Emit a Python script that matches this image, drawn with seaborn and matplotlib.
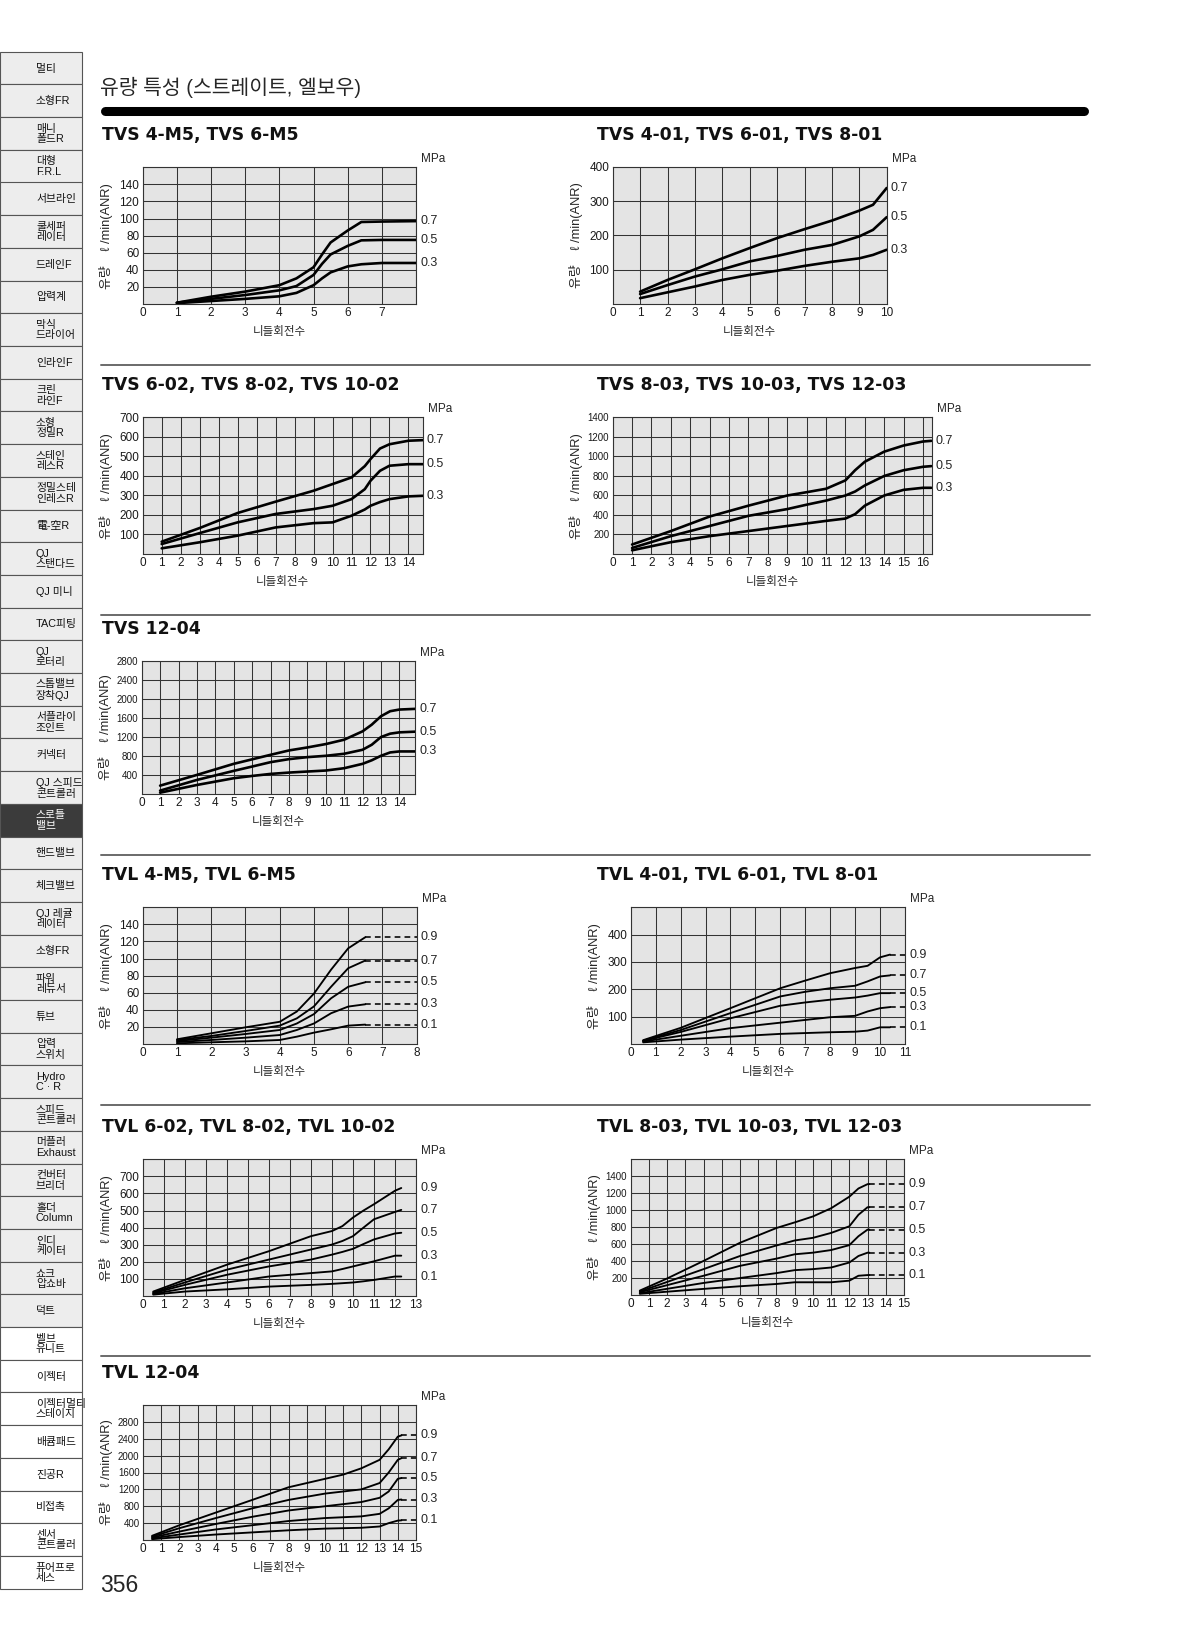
import matplotlib
matplotlib.use('Agg')
import matplotlib.pyplot as plt
from matplotlib.lines import Line2D
from matplotlib.patches import Rectangle
from matplotlib import font_manager
import numpy as np
import pandas as pd
import seaborn as sns

W, H = 1197, 1638

# ---------------- data ----------------
# TVS 4-M5, TVS 6-M5
tvs_m5_x = [1, 2, 3, 4, 4.5, 5, 5.25, 5.5, 6, 6.4, 7, 8]
tvs_m5_07 = [1.5, 8.5, 14.5, 22, 30, 43, 58, 72, 86, 96, 96.5, 97]
tvs_m5_05 = [1.5, 6, 10.5, 16, 21, 34, 47, 58, 68, 74.5, 75, 75]
tvs_m5_03 = [1, 3.5, 6, 9, 13, 22, 30, 37, 44, 46.5, 48, 48]

# TVS 4-01, TVS 6-01, TVS 8-01
tvs_01_x = [1, 2, 3, 4, 5, 6, 7, 8, 9, 9.5, 10]
tvs_01_07 = [36, 70, 101, 133, 163, 192, 218, 243, 272, 289, 338]
tvs_01_05 = [29, 55, 80, 101, 124, 140, 158, 172, 197, 216, 253]
tvs_01_03 = [17, 34, 51, 70, 85, 97, 111, 123, 133, 143, 158]

# TVS 6-02, TVS 8-02, TVS 10-02
tvs_02_x = [1, 3, 5, 7, 9, 10, 11, 11.7, 12, 12.5, 13, 14, 14.75]
tvs_02_07 = [63, 133, 210, 268, 324, 358, 392, 450, 486, 540, 562, 580, 583]
tvs_02_05 = [51, 107, 162, 205, 230, 247, 281, 332, 375, 426, 452, 460, 460]
tvs_02_03 = [29, 60, 94, 136, 158, 162, 196, 228, 247, 266, 281, 295, 298]

# TVS 8-03, TVS 10-03, TVS 12-03
tvs_03_x = [1, 3, 5, 7, 9, 10, 11, 12, 12.5, 13, 14, 15, 16, 16.43]
tvs_03_07 = [97, 235, 384, 495, 599, 633, 668, 754, 858, 945, 1048, 1111, 1152, 1159]
tvs_03_05 = [62, 183, 287, 391, 460, 505, 547, 599, 640, 702, 799, 858, 893, 900]
tvs_03_03 = [38, 121, 183, 235, 287, 313, 339, 363, 408, 495, 599, 657, 678, 678]

# TVS 12-04
tvs_04_x = [1, 3, 5, 6, 7, 8, 9, 10, 11, 12, 12.5, 13, 13.5, 14, 14.85]
tvs_04_07 = [176, 402, 635, 730, 825, 917, 980, 1051, 1143, 1319, 1460, 1637, 1743, 1778, 1792]
tvs_04_05 = [71, 296, 487, 578, 670, 734, 776, 804, 847, 931, 1037, 1199, 1270, 1298, 1312]
tvs_04_03 = [28, 190, 332, 380, 423, 451, 473, 494, 543, 635, 710, 804, 875, 896, 896]

# TVL 4-M5, TVL 6-M5
tvl_m5_x = [1, 2, 3, 4, 4.5, 5, 5.5, 6, 6.5]
tvl_m5_09 = [5.5, 12.5, 19.5, 26, 38, 59, 87, 112, 125]
tvl_m5_07 = [4.7, 9.4, 15.2, 21.5, 30, 44, 67, 88.7, 97.7]
tvl_m5_05 = [3.5, 7.4, 11.7, 16.4, 24, 35, 53.5, 67, 72.3]
tvl_m5_03 = [2.3, 4.7, 7.4, 10.5, 16.4, 24, 36, 43.8, 46.5]
tvl_m5_01 = [0.8, 2, 3.1, 4.7, 8.6, 13.3, 17.2, 21.5, 22.7]

# TVL 4-01, TVL 6-01, TVL 8-01
tvl_01_x = [0.5, 2, 4, 6, 7, 8, 9, 9.5, 10, 10.4]
tvl_01_09 = [14, 59, 131, 204, 232, 259, 278, 286, 317, 327]
tvl_01_07 = [12, 51, 113, 174, 191, 204, 213, 229, 247, 251]
tvl_01_05 = [11, 44, 94, 140, 152, 162, 170, 177, 186, 186]
tvl_01_03 = [9, 30, 58, 78, 88, 98, 103, 119, 131, 135]
tvl_01_01 = [6, 16, 27, 37, 40, 43, 45, 49, 61, 61]

# TVL 6-02, TVL 8-02, TVL 10-02
tvl_02_x = [0.5, 2, 4, 6, 8, 9, 9.5, 10, 10.5, 11, 12, 12.3]
tvl_02_09 = [26, 94, 183, 262, 350, 380, 409, 459, 500, 537, 616, 632]
tvl_02_07 = [20, 79, 154, 213, 272, 301, 322, 350, 400, 449, 492, 504]
tvl_02_05 = [16, 65, 124, 173, 213, 242, 258, 276, 304, 331, 366, 370]
tvl_02_03 = [12, 45, 79, 114, 134, 144, 158, 173, 188, 203, 236, 236]
tvl_02_01 = [8, 26, 39, 55, 65, 71, 75, 79, 86, 94, 114, 114]

# TVL 8-03, TVL 10-03, TVL 12-03
tvl_03_x = [0.5, 2, 4, 6, 8, 9, 10, 11, 12, 12.5, 13, 13.1]
tvl_03_09 = [52, 195, 402, 616, 790, 856, 926, 1023, 1159, 1256, 1307, 1307]
tvl_03_07 = [41, 154, 305, 460, 584, 643, 674, 732, 810, 946, 1035, 1035]
tvl_03_05 = [33, 116, 227, 344, 429, 480, 499, 530, 588, 693, 771, 771]
tvl_03_03 = [21, 73, 142, 200, 258, 293, 305, 324, 383, 460, 499, 499]
tvl_03_01 = [14, 39, 72, 103, 130, 150, 150, 150, 169, 227, 235, 235]

# TVL 12-04
tvl_04_x = [0.5, 2, 4, 6, 8, 10, 11, 12, 13, 13.5, 14, 14.2]
tvl_04_09 = [100, 350, 650, 950, 1250, 1450, 1550, 1700, 1900, 2150, 2450, 2480]
tvl_04_07 = [80, 280, 520, 750, 950, 1100, 1150, 1200, 1350, 1600, 1900, 1940]
tvl_04_05 = [60, 200, 380, 550, 700, 800, 850, 900, 1000, 1150, 1450, 1470]
tvl_04_03 = [40, 130, 250, 350, 450, 520, 540, 560, 620, 750, 950, 960]
tvl_04_01 = [20, 70, 130, 180, 230, 270, 280, 290, 320, 400, 460, 466]

tvs_mpa = ['0.7', '0.5', '0.3']
tvl_mpa = ['0.9', '0.7', '0.5', '0.3', '0.1']

side_items = ['멀티', '소형FR', '매니\n폴드R', '대형\nF.R.L', '서브라인', '쿨세퍼\n레이터',
              '드레인F', '압력계', '막식\n드라이어', '인라인F', '크린\n라인F', '소형\n정밀R',
              '스테인\n레스R', '정밀스테\n인레스R', '電-空R', 'QJ\n스탠다드', 'QJ 미니',
              'TAC피팅', 'QJ\n로터리', '스톱밸브\n장착QJ', '서플라이\n조인트', '커넥터',
              'QJ 스피드\n콘트롤러', '스로틀\n밸브', '핸드밸브', '체크밸브', 'QJ 레귤\n레이터',
              '소형FR', '파워\n레듀서', '튜브', '압력\n스위치', 'Hydro\nC · R', '스피드\n콘트롤러',
              '머플러\nExhaust', '컨버터\n브리더', '홀더\nColumn', '인디\n케이터', '쇼크\n압쇼바',
              '덕트', '벨브\n유니트', '이젝터', '이젝터멀티\n스테이지', '배큠패드', '진공R',
              '비접촉', '센서\n콘트롤러', '퓨어프로\n세스']
side_active = '스로틀\n밸브'
side_white_from = '벨브\n유니트'

# ---------------- style ----------------
sns.set_theme(style='white')
plt.rcParams['font.family'] = ['Liberation Sans', 'Noto Sans CJK KR', 'DejaVu Sans']
names = {f.name for f in font_manager.fontManager.ttflist}
narrow = 'Liberation Sans Narrow' if 'Liberation Sans Narrow' in names else 'Liberation Sans'

fig = plt.figure(figsize=(W / 100, H / 100), dpi=100)
fig.patch.set_facecolor('white')


def fx(x):
    return x / W


def fy(y):
    return 1 - y / H


def draw_chart(box, title, x, curves, mpa, xlim, ylim, xmax_label, ystep, ymax_label,
               dashed=False, lw=1.9, ysize=8.5, yfont=None):
    l, t, r, b = box
    ax = fig.add_axes([fx(l), fy(b), (r - l) / W, (b - t) / H])
    ax.set_facecolor('#e4e4e4')

    rows = []
    for lab, ys in zip(mpa, curves):
        rows += [(xx, yy, lab) for xx, yy in zip(x, ys)]
    df = pd.DataFrame(rows, columns=['turns', 'flow', 'MPa'])
    sns.lineplot(data=df, x='turns', y='flow', hue='MPa', palette=['black'] * len(mpa),
                 legend=False, ax=ax, lw=lw, zorder=3)

    for lab, ys in zip(mpa, curves):
        if dashed:
            ax.plot([x[-1], xlim[1]], [ys[-1], ys[-1]], color='black', lw=lw * 0.85,
                    ls=(0, (3.6, 2.6)), zorder=3, clip_on=False)
        ax.annotate(lab, xy=(1, ys[-1]), xycoords=ax.get_yaxis_transform(),
                    xytext=(3, 0), textcoords='offset points', va='center', ha='left',
                    fontsize=9)

    ax.set_xlim(*xlim)
    ax.set_ylim(*ylim)
    xt = np.arange(0, int(np.floor(xlim[1] + 0.01)) + 1)
    ax.set_xticks(xt)
    ax.set_xticklabels([str(v) if v <= xmax_label else '' for v in xt], fontsize=8.5)
    yt = np.arange(ystep, ylim[1] + 0.5 * ystep, ystep)
    ax.set_yticks(yt)
    ax.set_yticklabels([str(int(v)) if v <= ymax_label else '' for v in yt], fontsize=ysize,
                       family=yfont if yfont else None)
    ax.set_xlabel('')
    ax.set_ylabel('')
    ax.tick_params(length=0, pad=2.5, colors='#1a1a1a')
    ax.grid(True, color='#333333', lw=0.75)
    ax.set_axisbelow(True)
    for s in ax.spines.values():
        s.set_color('#333333')
        s.set_linewidth(0.8)

    # labels around the chart
    tx = 101.5 if l < 500 else 597
    fig.text(fx(tx), fy(t - 32), title, fontsize=12.4, fontweight='bold', family='DejaVu Sans',
             va='center', ha='left', color='#111111')
    fig.text(fx(r + 5), fy(t - 8), 'MPa', fontsize=8.5, va='center', ha='left')
    fig.text(fx((l + r) / 2), fy(b + 28), '니들회전수', fontsize=8.3, va='center', ha='center')
    fig.text(fx(l - 37), fy((t + b) / 2), '유량    ℓ /min(ANR)', fontsize=9.3, rotation=90,
             va='center', ha='center')
    return ax


# ---------------- sidebar ----------------
top, step = 51.7, 32.7
white_start = side_items.index(side_white_from)
for i, item in enumerate(side_items):
    y0 = top + i * step
    if item == side_active:
        fc, tc = '#3b3b3b', 'white'
    elif i >= white_start:
        fc, tc = 'white', '#111111'
    else:
        fc, tc = '#ededed', '#111111'
    fig.add_artist(Rectangle((0, fy(y0 + step)), fx(82), step / H, transform=fig.transFigure,
                             facecolor=fc, edgecolor='#555555', lw=0.8))
    fig.text(fx(36), fy(y0 + step / 2 + 0.5), item, fontsize=7.8, va='center', ha='left',
             color=tc, linespacing=1.05)

# ---------------- header ----------------
fig.text(fx(100), fy(87), '유량 특성 (스트레이트, 엘보우)', fontsize=14.7, va='center', ha='left')
fig.add_artist(Line2D([fx(105), fx(1084)], [fy(110.5), fy(110.5)], transform=fig.transFigure,
                      color='black', lw=6.5, solid_capstyle='round'))
for ys in [365, 615, 855, 1105, 1356]:
    fig.add_artist(Line2D([fx(101), fx(1090)], [fy(ys), fy(ys)], transform=fig.transFigure,
                          color='#6a6a6a', lw=1.4))
fig.text(fx(100), fy(1586), '356', fontsize=16.5, va='center', ha='left')

# ---------------- charts ----------------
draw_chart((142.7, 167.3, 416, 304), 'TVS 4-M5, TVS 6-M5', tvs_m5_x,
           [tvs_m5_07, tvs_m5_05, tvs_m5_03], tvs_mpa, (0, 8), (0, 160), 7, 20, 140)
draw_chart((612.7, 166.7, 886.7, 304), 'TVS 4-01, TVS 6-01, TVS 8-01', tvs_01_x,
           [tvs_01_07, tvs_01_05, tvs_01_03], tvs_mpa, (0, 10), (0, 400), 10, 100, 400)
draw_chart((142.7, 417.3, 422.7, 554), 'TVS 6-02, TVS 8-02, TVS 10-02', tvs_02_x,
           [tvs_02_07, tvs_02_05, tvs_02_03], tvs_mpa, (0, 14.75), (0, 700), 14, 100, 700)
draw_chart((612.7, 417.3, 931.7, 554), 'TVS 8-03, TVS 10-03, TVS 12-03', tvs_03_x,
           [tvs_03_07, tvs_03_05, tvs_03_03], tvs_mpa, (0, 16.45), (0, 1400), 16, 200, 1400,
           ysize=7, yfont=narrow)
draw_chart((141.7, 661, 415, 794), 'TVS 12-04', tvs_04_x,
           [tvs_04_07, tvs_04_05, tvs_04_03], tvs_mpa, (0, 14.85), (0, 2800), 14, 400, 2800,
           ysize=7, yfont=narrow)
draw_chart((142.7, 907.3, 416.7, 1044), 'TVL 4-M5, TVL 6-M5', tvl_m5_x,
           [tvl_m5_09, tvl_m5_07, tvl_m5_05, tvl_m5_03, tvl_m5_01], tvl_mpa, (0, 8), (0, 160),
           8, 20, 140, dashed=True, lw=1.35)
draw_chart((630.7, 907.3, 905, 1044), 'TVL 4-01, TVL 6-01, TVL 8-01', tvl_01_x,
           [tvl_01_09, tvl_01_07, tvl_01_05, tvl_01_03, tvl_01_01], tvl_mpa, (0, 11), (0, 500),
           11, 100, 400, dashed=True, lw=1.35)
draw_chart((142.7, 1159.3, 416, 1296), 'TVL 6-02, TVL 8-02, TVL 10-02', tvl_02_x,
           [tvl_02_09, tvl_02_07, tvl_02_05, tvl_02_03, tvl_02_01], tvl_mpa, (0, 13), (0, 800),
           13, 100, 700, lw=1.35)
draw_chart((630.7, 1159.3, 904, 1295), 'TVL 8-03, TVL 10-03, TVL 12-03', tvl_03_x,
           [tvl_03_09, tvl_03_07, tvl_03_05, tvl_03_03, tvl_03_01], tvl_mpa, (0, 15), (0, 1600),
           15, 200, 1400, dashed=True, lw=1.35, ysize=7, yfont=narrow)
draw_chart((143, 1405, 416, 1540), 'TVL 12-04', tvl_04_x,
           [tvl_04_09, tvl_04_07, tvl_04_05, tvl_04_03, tvl_04_01], tvl_mpa, (0, 15), (0, 3200),
           15, 400, 2800, dashed=True, lw=1.35, ysize=7, yfont=narrow)

fig.savefig('out.png', dpi=100, facecolor='white')
